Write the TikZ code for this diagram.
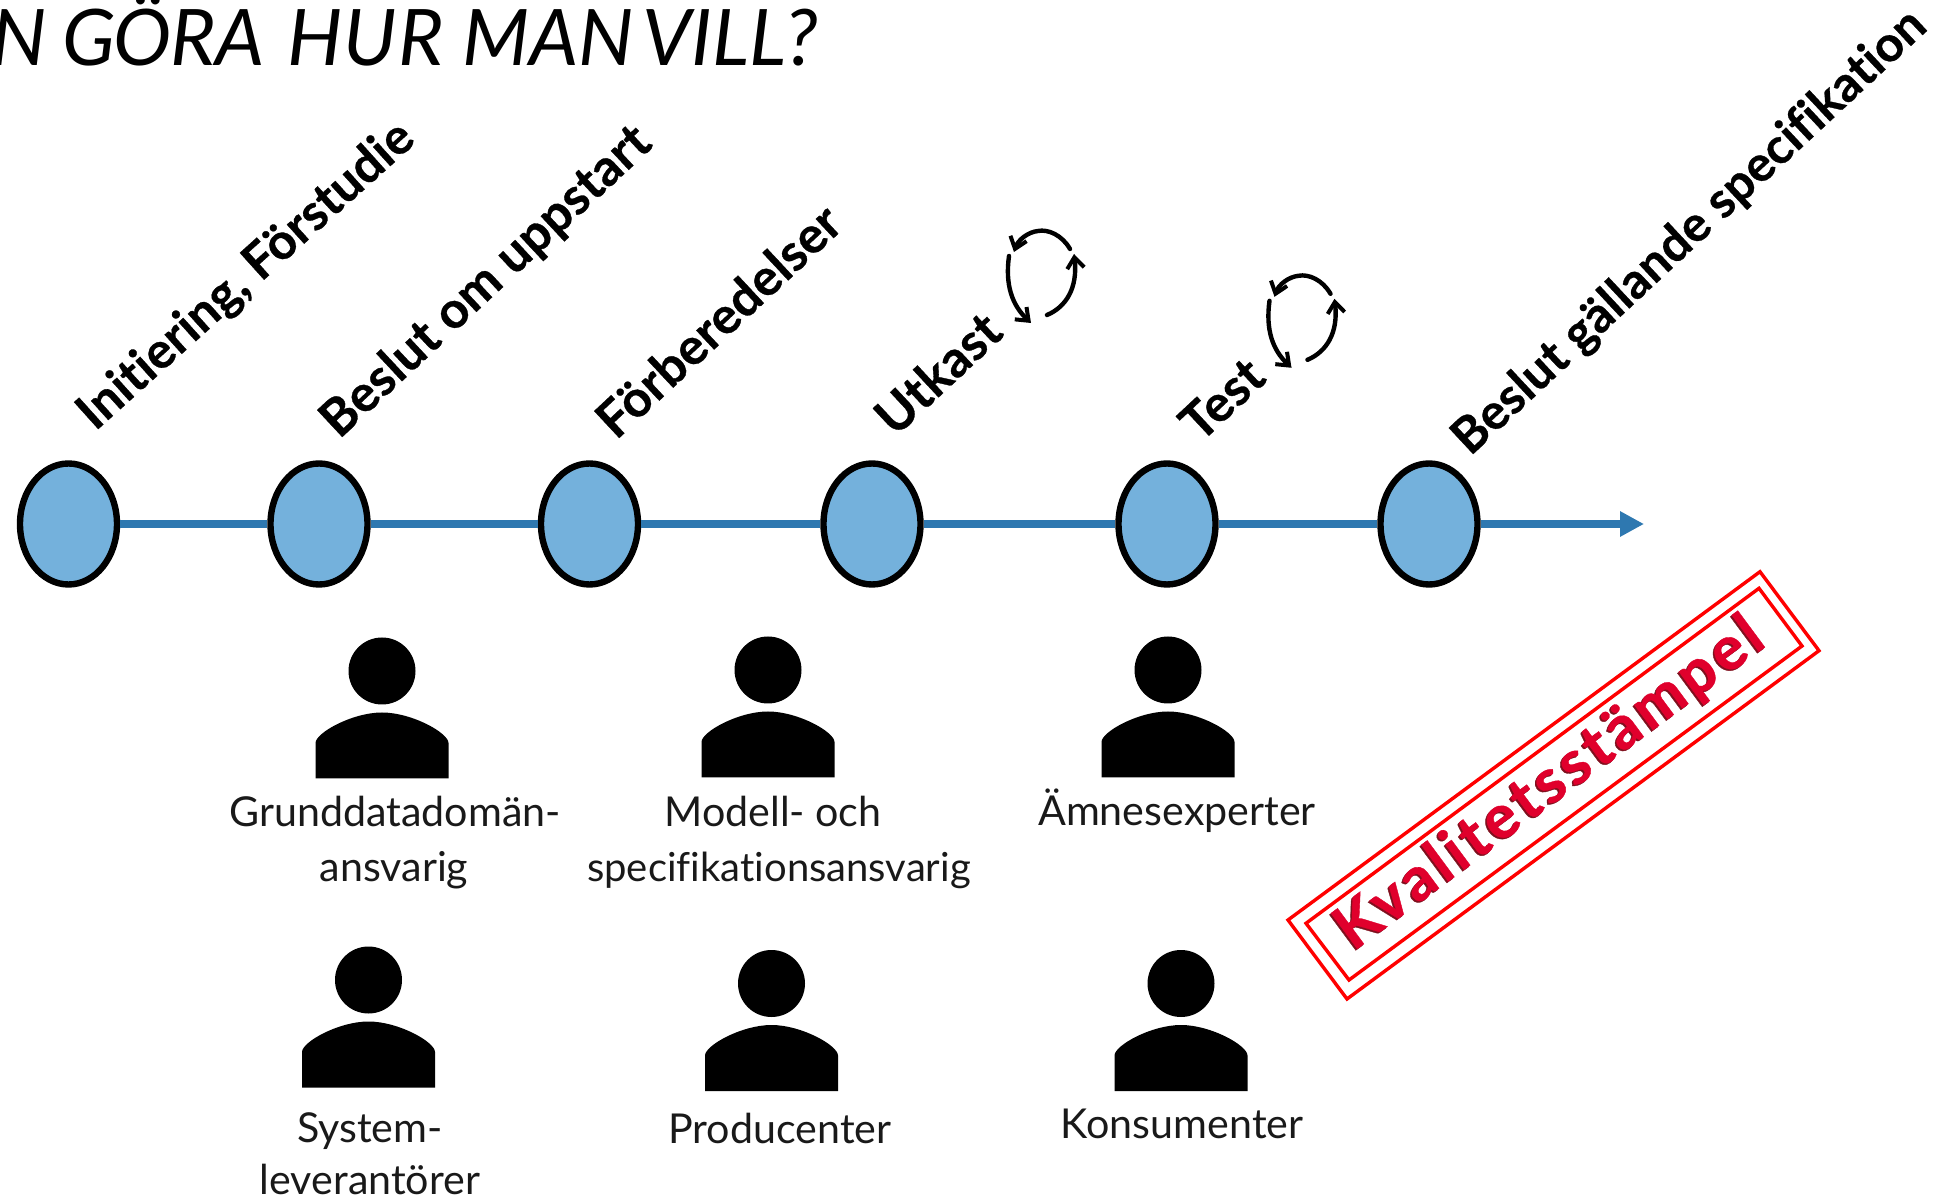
\documentclass[tikz,border=0pt]{standalone}
\usepackage{fontspec}
\setmainfont{Lato}[Ligatures=NoCommon,BoldFeatures={FakeBold=0.6}]
\usetikzlibrary{arrows.meta,shapes.geometric}
\definecolor{lineblue}{HTML}{2E78B0}
\definecolor{dotblue}{HTML}{74B1DC}
\definecolor{stampred}{HTML}{FF0000}
\definecolor{stamptext}{HTML}{E0002C}
\definecolor{stampshade}{HTML}{80101E}
\tikzset{
  stage/.style={ellipse,draw=black,line width=3.2pt,fill=dotblue,minimum width=48.5pt,minimum height=60.5pt,inner sep=0pt},
  flow/.style={draw=lineblue,line width=4pt},
  steplabel/.style={anchor=base west,inner sep=0pt,rotate=43,font=\fontsize{25.4}{25.4}\selectfont\bfseries},
  rolelabel/.style={anchor=base,inner sep=0pt,text=black!90,font=\fontsize{20.6}{20.6}\selectfont},
  stampline/.style={draw=stampred,line width=1.7pt,line join=miter},
  stamptype/.style={anchor=base west,inner sep=0pt,rotate=36.5,font=\fontsize{30.6}{30.6}\selectfont\bfseries\addfontfeatures{LetterSpace=7}},
  cyc/.style={draw=black,line width=2.2pt,line cap=round,-{Straight Barb[length=5.5pt,width=8.5pt,line width=2pt]}},
  person/.pic={
    \fill (0,0) circle (33.5);
    \fill (-66.5,107.5) -- (-66.5,72) .. controls (-66.5,62) and (-30,41.5) .. (0,41.5)
      .. controls (30,41.5) and (66.5,62) .. (66.5,72) -- (66.5,107.5) -- cycle;
  },
  cycle arrows/.pic={
    \draw[cyc] (1070,249) .. controls (1062,235) and (1048,229) .. (1038,231) .. controls (1028,232) and (1018,240) .. (1014,252);
    \draw[cyc] (1009,256) .. controls (1005,285) and (1012,305) .. (1031,323);
    \draw[cyc] (1047,315) .. controls (1066,307) and (1078,288) .. (1074,254);
  }
}
\begin{document}
\begin{tikzpicture}[x=0.5pt,y=-0.5pt]
\useasboundingbox (0,0) rectangle (1945,1197);
\begin{scope}
\clip (0,0) rectangle (1945,1197);
\node[name=title,anchor=base east,inner sep=0pt,font=\fontsize{39}{39}\selectfont\itshape] at (818,66)
  {N\hspace{-1pt} G\kern-1pt Ö\kern-1pt RA\hspace{2pt} H\kern0.65pt U\kern0.65pt R MAN\hspace{-5pt} VILL?};
\end{scope}
% stages
\node[stage] (e1) at (68.5,524) {};
\node[stage] (e2) at (319,524) {};
\node[stage] (e3) at (589.5,524) {};
\node[stage] (e4) at (872,524) {};
\node[stage] (e5) at (1167,524) {};
\node[stage] (e6) at (1429,524) {};
\coordinate (arrowend) at (1644,524);
\draw[flow] (e1) -- (e2);
\draw[flow] (e2) -- (e3);
\draw[flow] (e3) -- (e4);
\draw[flow] (e4) -- (e5);
\draw[flow] (e5) -- (e6);
\draw[flow,-{Triangle[length=12pt,width=12pt]}] (e6) -- (arrowend);
% step labels
\node[steplabel,rotate=-1,font=\fontsize{25}{25}\selectfont\bfseries] (l1) at (95,432) {Initiering, Förstudie};
\node[steplabel] (l2) at (339,440) {Beslut om uppstart};
\node[steplabel] (l3) at (616,441) {Förberedelser};
\node[steplabel] (l4) at (895,438) {Utkast};
\node[steplabel] (l5) at (1200,444) {Test};
\node[steplabel,font=\fontsize{24.7}{24.7}\selectfont\bfseries] (l6) at (1470,457) {Beslut gällande specifikation};
% cycles
\pic at (0,0) {cycle arrows};
\pic at (260.5,44.8) {cycle arrows};
% persons
\pic at (382,671) {person};
\pic at (768,670) {person};
\pic at (1168,670) {person};
\pic at (368.5,980) {person};
\pic at (771.5,983.5) {person};
\pic at (1181,983.5) {person};
% role labels
\node[rolelabel] (r1a) at (395,827) {Grunddatadomän-};
\node[rolelabel] (r1b) at (394,881) {ansvarig};
\node[rolelabel] (r2a) at (773,827) {Modell- och};
\node[rolelabel,font=\fontsize{20}{20}\selectfont] (r2b) at (779,881) {specifikationsansvarig};
\node[rolelabel] (r3) at (1177,826) {Ämnesexperter};
\node[rolelabel] (r4a) at (370,1142) {System-};
\node[rolelabel] (r4b) at (370,1194.5) {leverantörer};
\node[rolelabel] (r5) at (780,1143) {Producenter};
\node[rolelabel] (r6) at (1182,1138) {Konsumenter};
% stamp
\draw[stampline] (1760,571.7) -- (1819,650.7) -- (1347,999) -- (1288,920) -- cycle;
\draw[stampline] (1759,588.3) -- (1802,646) -- (1349,980) -- (1306,923.3) -- cycle;
\node[stamptype,text=stampshade] (stampshadow) at (1351.5,953.5) {Kvalitetsstämpel};
\node[stamptype,text=stamptext] (stamp) at (1353,952) {Kvalitetsstämpel};
\end{tikzpicture}
\end{document}
